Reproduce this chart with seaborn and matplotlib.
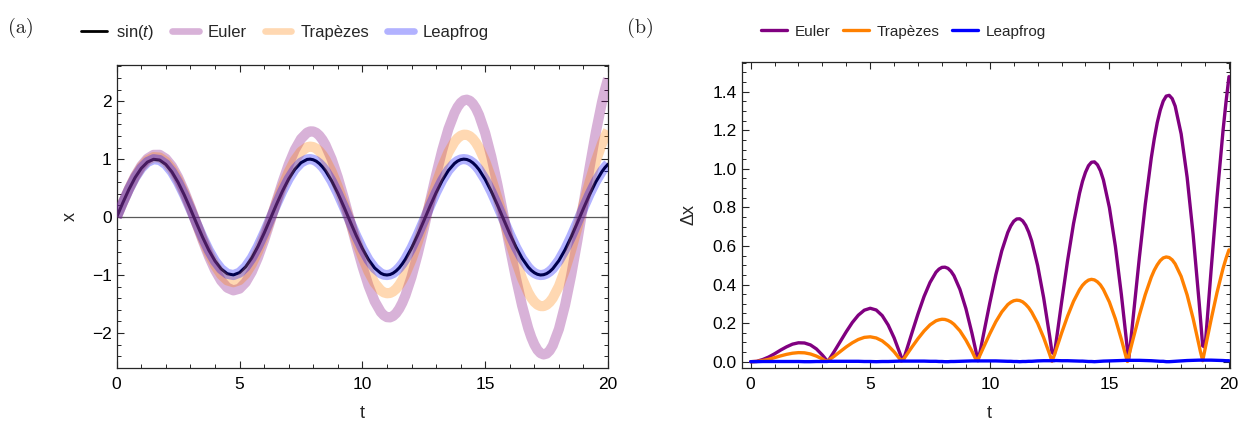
import matplotlib
matplotlib.use("Agg")
import matplotlib.pyplot as plt
from matplotlib.lines import Line2D
from matplotlib.ticker import MultipleLocator, FormatStrFormatter
import pandas as pd
import seaborn as sns

# ---------------- data ----------------
t = [0, 0.25, 0.5, 0.75, 1, 1.25, 1.5, 1.75, 2, 2.25, 2.5, 2.75, 3, 3.25, 3.5, 3.75,
     4, 4.25, 4.5, 4.75, 5, 5.25, 5.5, 5.75, 6, 6.25, 6.5, 6.75, 7, 7.25, 7.5, 7.75,
     8, 8.25, 8.5, 8.75, 9, 9.25, 9.5, 9.75, 10, 10.25, 10.5, 10.75, 11, 11.25, 11.5, 11.75,
     12, 12.25, 12.5, 12.75, 13, 13.25, 13.5, 13.75, 14, 14.25, 14.5, 14.75, 15, 15.25, 15.5, 15.75,
     16, 16.25, 16.5, 16.75, 17, 17.25, 17.5, 17.75, 18, 18.25, 18.5, 18.75, 19, 19.25, 19.5, 19.75, 20]

sin_t = [0.000, 0.247, 0.479, 0.682, 0.841, 0.949, 0.997, 0.984, 0.909, 0.778, 0.598, 0.382, 0.141,
         -0.108, -0.351, -0.572, -0.757, -0.895, -0.978, -0.999, -0.959, -0.859, -0.706, -0.508,
         -0.279, -0.033, 0.215, 0.450, 0.657, 0.823, 0.938, 0.995, 0.989, 0.923, 0.799, 0.625,
         0.412, 0.174, -0.075, -0.320, -0.544, -0.735, -0.880, -0.970, -1.000, -0.968, -0.876,
         -0.729, -0.537, -0.311, -0.066, 0.183, 0.420, 0.632, 0.804, 0.926, 0.991, 0.994, 0.935,
         0.818, 0.650, 0.442, 0.207, -0.042, -0.288, -0.516, -0.712, -0.863, -0.961, -1.000,
         -0.976, -0.891, -0.751, -0.564, -0.343, -0.099, 0.150, 0.390, 0.606, 0.784, 0.913]

euler_x = [0.000, 0.250, 0.490, 0.706, 0.883, 1.009, 1.074, 1.075, 1.007, 0.876, 0.685, 0.447, 0.175,
           -0.115, -0.405, -0.677, -0.913, -1.098, -1.219, -1.266, -1.236, -1.127, -0.944, -0.698,
           -0.402, -0.074, 0.268, 0.602, 0.906, 1.161, 1.349, 1.458, 1.478, 1.406, 1.244, 1.000,
           0.687, 0.323, -0.070, -0.469, -0.848, -1.184, -1.454, -1.640, -1.728, -1.709, -1.583,
           -1.354, -1.035, -0.643, -0.200, 0.266, 0.727, 1.154, 1.520, 1.799, 1.973, 2.027, 1.956,
           1.760, 1.449, 1.040, 0.555, 0.022, -0.525, -1.053, -1.528, -1.919, -2.200, -2.350,
           -2.357, -2.216, -1.932, -1.520, -1.003, -0.409, 0.225, 0.861, 1.459, 1.980, 2.391]

trap_x = [0.000, 0.249, 0.485, 0.694, 0.862, 0.979, 1.035, 1.028, 0.957, 0.824, 0.639, 0.411, 0.155,
          -0.114, -0.380, -0.625, -0.834, -0.993, -1.093, -1.125, -1.088, -0.982, -0.813, -0.592,
          -0.330, -0.045, 0.247, 0.527, 0.777, 0.982, 1.129, 1.206, 1.209, 1.137, 0.993, 0.784,
          0.524, 0.229, -0.085, -0.398, -0.689, -0.942, -1.138, -1.266, -1.316, -1.285, -1.173,
          -0.986, -0.735, -0.436, -0.105, 0.237, 0.568, 0.867, 1.117, 1.299, 1.403, 1.420, 1.349,
          1.192, 0.960, 0.664, 0.323, -0.043, -0.410, -0.757, -1.060, -1.301, -1.464, -1.537,
          -1.515, -1.398, -1.193, -0.910, -0.567, -0.184, 0.216, 0.607, 0.964, 1.266, 1.493]

leap_x = [0.000, 0.248, 0.480, 0.683, 0.843, 0.950, 0.999, 0.985, 0.910, 0.779, 0.598, 0.381, 0.140,
          -0.110, -0.353, -0.574, -0.759, -0.897, -0.979, -1.001, -0.960, -0.859, -0.705, -0.507,
          -0.277, -0.031, 0.218, 0.453, 0.660, 0.826, 0.940, 0.996, 0.990, 0.922, 0.797, 0.623,
          0.409, 0.170, -0.079, -0.324, -0.548, -0.739, -0.883, -0.972, -1.001, -0.968, -0.874,
          -0.726, -0.533, -0.307, -0.061, 0.188, 0.426, 0.637, 0.808, 0.929, 0.993, 0.994, 0.934,
          0.816, 0.646, 0.437, 0.200, -0.049, -0.295, -0.522, -0.718, -0.868, -0.965, -1.001,
          -0.975, -0.889, -0.747, -0.559, -0.336, -0.092, 0.158, 0.398, 0.613, 0.790, 0.918]

# extra samples around the crests (read the same way)
t_fine = [7.875, 8.125, 8.375, 10.875, 11.125, 11.375, 11.625, 13.875, 14.125, 14.375, 14.625,
          16.875, 17.125, 17.375, 17.625, 19.875]
sin_fine = [1.000, 0.964, 0.867, -0.993, -0.992, -0.929, -0.808, 0.966, 1.000, 0.972, 0.883,
            -0.920, -0.988, -0.995, -0.941, 0.855]
euler_fine = [1.480, 1.454, 1.336, -1.697, -1.732, -1.659, -1.481, 1.900, 2.016, 2.008, 1.874,
              -2.075, -2.293, -2.372, -2.305, 2.201]
trap_fine = [1.217, 1.182, 1.073, -1.301, -1.311, -1.239, -1.088, 1.361, 1.423, 1.396, 1.281,
             -1.393, -1.512, -1.538, -1.468, 1.390]
leap_fine = [1.001, 0.964, 0.867, -0.995, -0.992, -0.928, -0.807, 0.969, 1.001, 0.972, 0.882,
             -0.924, -0.991, -0.996, -0.939, 0.860]

t_err = [0, 0.25, 0.5, 0.75, 1, 1.25, 1.5, 1.75, 2, 2.25, 2.5, 2.75, 3, 3.1, 3.2, 3.25, 3.3,
         3.5, 3.75, 4, 4.25, 4.5, 4.75, 5, 5.25, 5.5, 5.75, 6, 6.25, 6.3, 6.4,
         6.5, 6.75, 7, 7.25, 7.5, 7.75, 8, 8.25, 8.5, 8.75, 9, 9.25, 9.4, 9.5, 9.6,
         9.75, 10, 10.25, 10.5, 10.75, 11, 11.25, 11.5, 11.75, 12, 12.25, 12.5, 12.6, 12.7,
         12.75, 13, 13.25, 13.5, 13.75, 14, 14.25, 14.5, 14.75, 15, 15.25, 15.5, 15.7, 15.75, 15.8, 15.9,
         16, 16.25, 16.5, 16.75, 17, 17.25, 17.5, 17.75, 18, 18.25, 18.5, 18.75, 18.8, 18.9,
         19, 19.25, 19.5, 19.75, 20]

euler_dx = [0.000, 0.002, 0.011, 0.024, 0.041, 0.060, 0.077, 0.091, 0.098, 0.097, 0.087, 0.066, 0.034,
            0.019, 0.002, 0.006, 0.015,
            0.054, 0.105, 0.156, 0.203, 0.241, 0.267, 0.277, 0.268, 0.239, 0.190, 0.123, 0.040,
            0.022, 0.015,
            0.053, 0.152, 0.249, 0.338, 0.411, 0.464, 0.489, 0.484, 0.446, 0.375, 0.275, 0.149,
            0.065, 0.005, 0.056,
            0.150, 0.305, 0.450, 0.575, 0.670, 0.728, 0.741, 0.707, 0.626, 0.498, 0.332, 0.134,
            0.049, 0.039,
            0.083, 0.307, 0.523, 0.716, 0.873, 0.982, 1.034, 1.021, 0.942, 0.799, 0.598, 0.348,
            0.123, 0.064, 0.005, 0.116,
            0.237, 0.537, 0.816, 1.056, 1.239, 1.351, 1.381, 1.325, 1.181, 0.956, 0.660, 0.310,
            0.235, 0.082,
            0.075, 0.471, 0.853, 1.197, 1.478]

trap_dx = [0.000, 0.001, 0.006, 0.012, 0.021, 0.030, 0.038, 0.044, 0.047, 0.046, 0.040, 0.029, 0.014,
           0.006, 0.002, 0.006, 0.011,
           0.029, 0.053, 0.077, 0.098, 0.115, 0.126, 0.129, 0.123, 0.108, 0.083, 0.051, 0.012,
           0.003, 0.014,
           0.032, 0.077, 0.120, 0.159, 0.191, 0.212, 0.220, 0.214, 0.194, 0.160, 0.112, 0.055,
           0.016, 0.010, 0.037,
           0.078, 0.145, 0.207, 0.258, 0.296, 0.316, 0.317, 0.297, 0.257, 0.199, 0.125, 0.039,
           0.002, 0.035,
           0.054, 0.148, 0.236, 0.313, 0.373, 0.412, 0.427, 0.414, 0.374, 0.309, 0.222, 0.116,
           0.023, 0.001, 0.025, 0.074,
           0.122, 0.241, 0.348, 0.438, 0.502, 0.538, 0.540, 0.507, 0.442, 0.346, 0.224, 0.084,
           0.055, 0.005,
           0.066, 0.217, 0.359, 0.483, 0.580]

leap_dx = [0.000, 0.000, 0.001, 0.001, 0.001, 0.001, 0.001, 0.001, 0.001, 0.000, 0.000, 0.001, 0.001,
           0.001, 0.001, 0.002, 0.002,
           0.002, 0.002, 0.002, 0.002, 0.002, 0.001, 0.001, 0.000, 0.001, 0.001, 0.002, 0.003,
           0.003, 0.003,
           0.003, 0.003, 0.003, 0.003, 0.002, 0.002, 0.001, 0.000, 0.001, 0.002, 0.003, 0.004,
           0.004, 0.004, 0.004,
           0.004, 0.004, 0.004, 0.003, 0.002, 0.001, 0.000, 0.001, 0.002, 0.004, 0.005, 0.005,
           0.005, 0.005,
           0.006, 0.005, 0.005, 0.004, 0.003, 0.002, 0.001, 0.001, 0.003, 0.004, 0.005, 0.006,
           0.007, 0.007, 0.007, 0.007,
           0.007, 0.007, 0.006, 0.005, 0.003, 0.002, 0.000, 0.002, 0.004, 0.006, 0.007, 0.008,
           0.008, 0.008,
           0.008, 0.008, 0.007, 0.006, 0.005]

euler_dx_fine = [0.480, 0.490, 0.469, 0.704, 0.740, 0.730, 0.672, 0.935, 1.016, 1.036, 0.990,
                 1.155, 1.304, 1.377, 1.364, 1.346]
trap_dx_fine = [0.217, 0.219, 0.206, 0.308, 0.319, 0.310, 0.280, 0.396, 0.423, 0.424, 0.398,
                0.474, 0.524, 0.543, 0.528, 0.535]
leap_dx_fine = [0.001, 0.000, 0.001, 0.002, 0.001, 0.001, 0.002, 0.003, 0.001, 0.000, 0.002,
                0.004, 0.002, 0.000, 0.001, 0.005]

left_labels = ["sin($t$)", "Euler", "Trapèzes", "Leapfrog"]
right_labels = ["Euler", "Trapèzes", "Leapfrog"]

# tables for seaborn (lineplot sorts by t)
df_x = pd.DataFrame({"t": t + t_fine,
                     "sin": sin_t + sin_fine,
                     "Euler": euler_x + euler_fine,
                     "Trap": trap_x + trap_fine,
                     "Leap": leap_x + leap_fine})
df_dx = pd.DataFrame({"t": t_err + t_fine,
                      "Euler": euler_dx + euler_dx_fine,
                      "Trap": trap_dx + trap_dx_fine,
                      "Leap": leap_dx + leap_dx_fine})

# ---------------- style ----------------
sns.set_theme(style="ticks")
plt.rcParams["font.family"] = ["Liberation Sans", "DejaVu Sans"]
plt.rcParams["mathtext.fontset"] = "custom"
plt.rcParams["mathtext.rm"] = "Liberation Sans"
plt.rcParams["mathtext.it"] = "Liberation Sans:italic"
plt.rcParams["axes.unicode_minus"] = True

PURPLE = "#800080"
ORANGE = "#FF8000"
BLUE = "#0000FF"
FRAME = "#262626"
BAND_A = 0.3

fig = plt.figure(figsize=(12.44, 4.24), dpi=100)
ax1 = fig.add_axes([0.0938, 0.1328, 0.3950, 0.7146])
ax2 = fig.add_axes([0.5962, 0.1314, 0.3925, 0.7231])

# ---------------- panel (a) ----------------
ax1.axhline(0, color="0.35", lw=0.9, zorder=1)
sns.lineplot(data=df_x, x="t", y="sin", ax=ax1, color="black", lw=2.2, zorder=2)
sns.lineplot(data=df_x, x="t", y="Euler", ax=ax1, color=PURPLE, alpha=BAND_A, lw=7.3, zorder=3,
             solid_capstyle="butt", solid_joinstyle="round")
sns.lineplot(data=df_x, x="t", y="Trap", ax=ax1, color=ORANGE, alpha=BAND_A, lw=7.3, zorder=4,
             solid_capstyle="butt", solid_joinstyle="round")
sns.lineplot(data=df_x, x="t", y="Leap", ax=ax1, color=BLUE, alpha=BAND_A, lw=7.3, zorder=5,
             solid_capstyle="butt", solid_joinstyle="round")

ax1.set_xlim(0, 20)
ax1.set_ylim(-2.60, 2.63)
ax1.xaxis.set_major_locator(MultipleLocator(5))
ax1.xaxis.set_minor_locator(MultipleLocator(1))
ax1.yaxis.set_major_locator(MultipleLocator(1))
ax1.yaxis.set_minor_locator(MultipleLocator(0.2))
ax1.set_xlabel("t", fontsize=13, va="center")
ax1.set_ylabel("x", fontsize=13, va="center")
ax1.xaxis.set_label_coords(0.5, -0.151)
ax1.yaxis.set_label_coords(-0.095, 0.5)

# ---------------- panel (b) ----------------
sns.lineplot(data=df_dx, x="t", y="Euler", ax=ax2, color=PURPLE, lw=2.4, zorder=3,
             solid_joinstyle="round")
sns.lineplot(data=df_dx, x="t", y="Trap", ax=ax2, color=ORANGE, lw=2.4, zorder=4,
             solid_joinstyle="round")
sns.lineplot(data=df_dx, x="t", y="Leap", ax=ax2, color=BLUE, lw=2.4, zorder=5,
             solid_joinstyle="round")

ax2.set_xlim(-0.376, 20.04)
ax2.set_ylim(-0.0342, 1.5555)
ax2.xaxis.set_major_locator(MultipleLocator(5))
ax2.xaxis.set_minor_locator(MultipleLocator(1))
ax2.yaxis.set_major_locator(MultipleLocator(0.2))
ax2.yaxis.set_minor_locator(MultipleLocator(0.05))
ax2.yaxis.set_major_formatter(FormatStrFormatter("%.1f"))
ax2.set_xlabel("t", fontsize=13, va="center")
ax2.set_ylabel("Δx", fontsize=13, va="center")
ax2.xaxis.set_label_coords(0.508, -0.147)
ax2.yaxis.set_label_coords(-0.108, 0.5)

for ax in (ax1, ax2):
    ax.tick_params(which="both", direction="in", top=True, right=True,
                   color=FRAME, labelcolor="black", labelsize=12.5)
    ax.tick_params(which="major", length=5.0, width=0.8)
    ax.tick_params(which="minor", length=2.6, width=0.7)
    ax.tick_params(axis="x", which="major", pad=6.5)
    ax.tick_params(axis="y", which="major", pad=3.6)
    for sp in ax.spines.values():
        sp.set_color(FRAME)
        sp.set_linewidth(0.9)
    leg = ax.get_legend()
    if leg is not None:
        leg.remove()

# ---------------- legends ----------------
h_left = [Line2D([], [], color="black", lw=2.0),
          Line2D([], [], color=PURPLE, alpha=BAND_A, lw=4.8),
          Line2D([], [], color=ORANGE, alpha=BAND_A, lw=4.8),
          Line2D([], [], color=BLUE, alpha=BAND_A, lw=4.8)]
fig.legend(h_left, left_labels, loc="center", bbox_to_anchor=(0.229, 0.923), ncol=4,
           frameon=False, fontsize=12, handlelength=1.58, handletextpad=0.56,
           columnspacing=1.08, borderpad=0, borderaxespad=0)

h_right = [Line2D([], [], color=PURPLE, lw=2.4),
           Line2D([], [], color=ORANGE, lw=2.4),
           Line2D([], [], color=BLUE, lw=2.4)]
fig.legend(h_right, right_labels, loc="center", bbox_to_anchor=(0.7265, 0.925), ncol=3,
           frameon=False, fontsize=11, handlelength=1.7, handletextpad=0.5,
           columnspacing=0.82, borderpad=0, borderaxespad=0)

# ---------------- panel tags ----------------
fig.text(0.0064, 0.934, "(a)", fontfamily="cmr10", fontsize=14.5, ha="left", va="center")
fig.text(0.504, 0.934, "(b)", fontfamily="cmr10", fontsize=14.5, ha="left", va="center")

fig.savefig("out.png", dpi=100)
